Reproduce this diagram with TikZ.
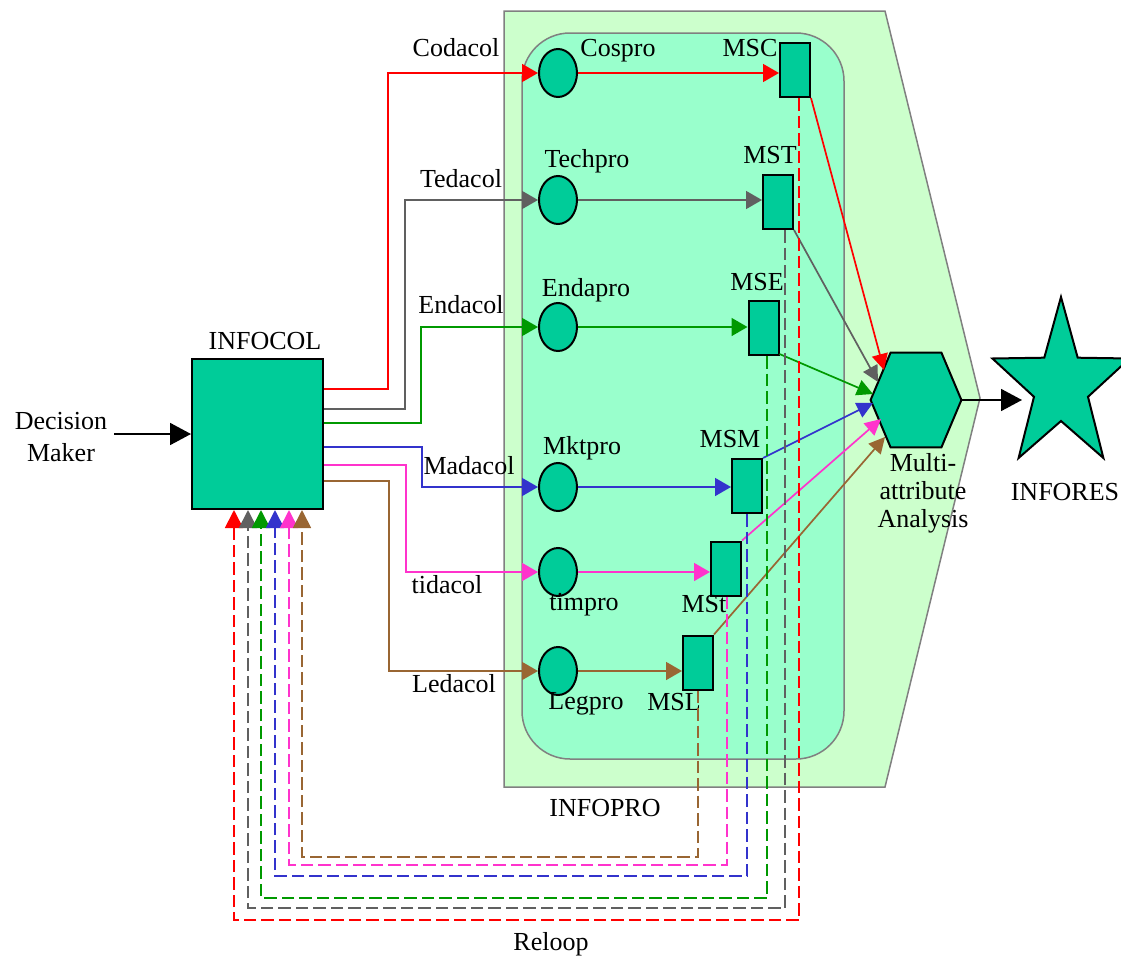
\documentclass[tikz,border=0pt]{standalone}
\usepackage{fontspec}
\setmainfont{Liberation Serif}
\usetikzlibrary{arrows.meta,shapes.geometric,calc}
\definecolor{nfill}{RGB}{0,204,153}
\definecolor{outerfill}{RGB}{204,255,204}
\definecolor{innerfill}{RGB}{153,255,204}
\definecolor{bgray}{RGB}{128,128,128}
\definecolor{cred}{RGB}{255,0,0}
\definecolor{cgray}{RGB}{96,96,96}
\definecolor{cgreen}{RGB}{0,153,0}
\definecolor{cblue}{RGB}{51,51,204}
\definecolor{cpink}{RGB}{255,51,204}
\definecolor{cbrown}{RGB}{153,102,51}
\begin{document}
\begin{tikzpicture}[x=0.5pt,y=-0.5pt,
  every node/.style={font=\fontsize{13}{15}\selectfont},
  nodeline/.style={draw=black, line width=1pt, fill=nfill},
  bigbox/.style={nodeline, rectangle, minimum width=65.5pt, minimum height=75pt, inner sep=0pt},
  ell/.style={nodeline, ellipse, minimum width=19pt, minimum height=24pt, inner sep=0pt},
  msbox/.style={nodeline, rectangle, minimum width=15pt, minimum height=27pt, inner sep=0pt},
  conn/.style={line width=0.85pt},
  arr/.style={conn, -{Triangle[length=8pt,width=9pt]}},
  arrh/.style={conn, -{Triangle[length=8pt,width=8pt]}},
  back/.style={conn, line width=0.9pt, dash pattern=on 6.25pt off 2.5pt, -{Triangle[length=9pt,width=9pt]}},
  bigarr/.style={line width=0.9pt, -{Triangle[length=10.5pt,width=11pt]}},
  frame/.style={draw=bgray, line width=0.75pt},
]
\useasboundingbox (0,0) rectangle (1121,958);

% backgrounds
\draw[frame, fill=outerfill] (504,11) -- (885,11) -- (980,398) -- (885,787) -- (504,787) -- cycle;
\draw[frame, fill=innerfill, rounded corners=24pt] (522,33) rectangle (844,759);

% main nodes
\node[bigbox] (infocol) at (257.5,434) {};
\node[ell] (cospro) at (558,73) {};
\node[ell] (techpro) at (558,200) {};
\node[ell] (endapro) at (558,327) {};
\node[ell] (mktpro) at (558,487) {};
\node[ell] (timpro) at (558,572) {};
\node[ell] (legpro) at (558,671) {};
\node[msbox] (msc) at (795,70) {};
\node[msbox] (mst) at (778,202) {};
\node[msbox] (mse) at (763.5,328) {};
\node[msbox] (msm) at (747,486) {};
\node[msbox] (mstt) at (726,568.5) {};
\node[msbox] (msl) at (698,662.5) {};

% hexagon
\node[inner sep=0pt, minimum width=45pt, minimum height=47pt] (hex) at (916,400) {};
\draw[nodeline] (hex.west) -- ([xshift=10pt]hex.north west) -- ([xshift=-10pt]hex.north east)
  -- (hex.east) -- ([xshift=-10pt]hex.south east) -- ([xshift=10pt]hex.south west) -- cycle;
\coordinate (h1) at (884,370);
\coordinate (h2) at (878,382);
\coordinate (h3) at (873,394);
\coordinate (h4) at (873,403);
\coordinate (h5) at (881,419);
\coordinate (h6) at (885,437);

% star
\coordinate (star) at (1061,386);
\draw[nodeline] (1061,297) -- (1077.7,357.7) -- (1129.6,358.5) -- (1088,396.8) -- (1103.4,458)
  -- (1061,421) -- (1018.6,458) -- (1034,396.8) -- (992.4,358.5) -- (1044.3,357.7) -- cycle;
\coordinate (starin) at (1022,400);

% labels
\node (dm) [align=center, font=\fontsize{13}{16}\selectfont] at (61,437) {Decision\\Maker};
\node (tinfocol) at (265,341) {INFOCOL};
\node (tcodacol) at (456,48) {Codacol};
\node (ttedacol) at (461,179) {Tedacol};
\node (tendacol) at (461,305) {Endacol};
\node (tmadacol) at (469,466) {Madacol};
\node (ttidacol) at (447,585) {tidacol};
\node (tledacol) at (454,684) {Ledacol};
\node (tcospro) at (618,51) {Cospro};
\node (ttechpro) at (587,161) {Techpro};
\node (tendapro) at (586,290) {Endapro};
\node (tmktpro) at (582,448) {Mktpro};
\node (ttimpro) at (584,605) {timpro};
\node (tlegpro) at (586,704) {Legpro};
\node (tmsc) at (750,48) {MSC};
\node (tmst) at (770,155) {MST};
\node (tmse) at (757,282) {MSE};
\node (tmsm) at (730,439) {MSM};
\node (tmstt) at (704,604) {MSt};
\node (tmsl) at (674,702) {MSL};
\node (tinfopro) at (605,808) {INFOPRO};
\node (treloop) at (551,944) {Reloop};
\node (tinfores) at (1065,492) {INFORES};
\node (tmulti) [align=center, font=\fontsize{13}{14}\selectfont] at (923,493) {Multi-\\attribute\\Analysis};

% decision maker input
\draw[bigarr] (infocol.west -| dm.east) -- (infocol.west);

% INFOCOL to processors
\draw[cred, arr] ([yshift=22.5pt]infocol.east) -| (388,73) -- (cospro);
\draw[cgray, arr] ([yshift=12.5pt]infocol.east) -| (405,200) -- (techpro);
\draw[cgreen, arr] ([yshift=5.5pt]infocol.east) -| (421,327) -- (endapro);
\draw[cblue, arr] ([yshift=-6.5pt]infocol.east) -| (422,487) -- (mktpro);
\draw[cpink, arr] ([yshift=-15.5pt]infocol.east) -| (406,572) -- (timpro);
\draw[cbrown, arr] ([yshift=-23.5pt]infocol.east) -| (389,671) -- (legpro);

% processors to MS boxes
\draw[cred, arr] (cospro) -- (cospro -| msc.west);
\draw[cgray, arr] (techpro) -- (techpro -| mst.west);
\draw[cgreen, arr] (endapro) -- (endapro -| mse.west);
\draw[cblue, arr] (mktpro) -- (mktpro -| msm.west);
\draw[cpink, arr] (timpro) -- (timpro -| mstt.west);
\draw[cbrown, arr] (legpro) -- (legpro -| msl.west);

% MS boxes to analysis
\draw[cred, arrh] (msc.south east) -- (h1);
\draw[cgray, arrh] (mst.south east) -- (h2);
\draw[cgreen, arrh] ([yshift=1pt]mse.south east) -- (h3);
\draw[cblue, arrh] (msm.north east) -- (h4);
\draw[cpink, arrh] (mstt.north east) -- (h5);
\draw[cbrown, arrh] (msl.north east) -- (h6);

% analysis to result
\draw[bigarr] (hex.east) -- (starin);

% reloop feedback
\draw[cred, back] ([xshift=2pt]msc.south) -- ++(0,822) -| ([xshift=-11.75pt]infocol.south);
\draw[cgray, back] ([xshift=3.5pt]mst.south) -- ++(0,678) -| ([xshift=-4.75pt]infocol.south);
\draw[cgreen, back] ([xshift=1.75pt]mse.south) -- ++(0,542) -| ([xshift=1.75pt]infocol.south);
\draw[cblue, back] (msm.south) -- ++(0,362) -| ([xshift=8.75pt]infocol.south);
\draw[cpink, back] ([xshift=0.5pt]mstt.south) -- ++(0,268.5) -| ([xshift=15.75pt]infocol.south);
\draw[cbrown, back] (msl.south) -- ++(0,166.5) -| ([xshift=22.25pt]infocol.south);
\end{tikzpicture}
\end{document}
